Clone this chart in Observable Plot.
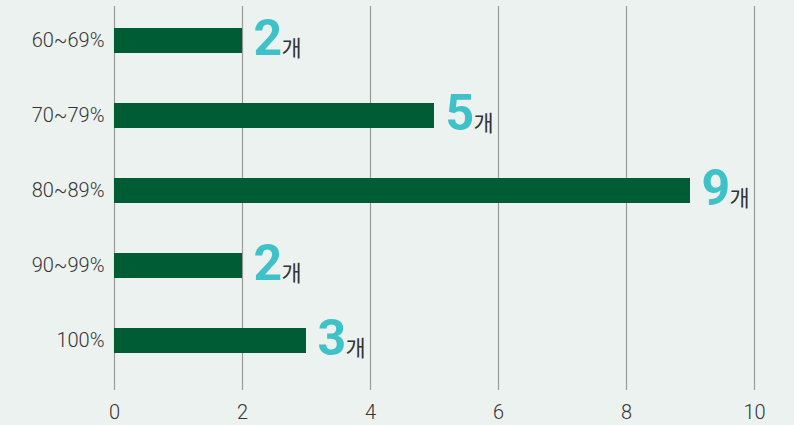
<!DOCTYPE html>
<html>
<head>
<meta charset="utf-8">
<script src="https://cdn.jsdelivr.net/npm/d3@7"></script>
<script src="https://cdn.jsdelivr.net/npm/@observablehq/plot@0.6"></script>
<style>
  html, body { margin: 0; padding: 0; background: #ecf2f0; }
  #chart svg { display: block; }
</style>
</head>
<body>
<div id="chart"></div>
<script>
const categories = ["60~69%", "70~79%", "80~89%", "90~99%", "100%"];
const counts = [2, 5, 9, 2, 3];
const xTicks = [0, 2, 4, 6, 8, 10];
const unitLabel = "개";

const data = categories.map((c, i) => ({category: c, count: counts[i]}));

const chart = Plot.plot({
  width: 794,
  height: 425,
  marginLeft: 114,
  marginRight: 40,
  marginTop: 6,
  marginBottom: 35,
  style: {background: "#ecf2f0", fontFamily: "Roboto, 'Noto Sans CJK KR', sans-serif"},
  x: {domain: [0, 10], ticks: xTicks},
  y: {domain: categories, paddingInner: 0.67, paddingOuter: 0.378, align: 0.37, label: null},
  marks: [
    Plot.gridX(xTicks, {stroke: "#9a9a9a", strokeOpacity: 1, strokeWidth: 1.2}),
    Plot.axisX({ticks: xTicks, tickSize: 0, tickPadding: 14, fontSize: 20, fontWeight: 300, label: null, fill: "#333"}),
    Plot.axisY({tickSize: 0, tickPadding: 10, fontSize: 20, fontWeight: 300, label: null, fill: "#333"}),
    Plot.barX(data, {x: "count", y: "category", fill: "#005c34"}),
    Plot.text(data, {
      x: "count", y: "category", text: d => String(d.count),
      textAnchor: "start", lineAnchor: "bottom", dx: 11, dy: 14,
      fill: "#3fc1c8", fontSize: 50, fontWeight: "bold", fontFamily: "Roboto, sans-serif"
    }),
    Plot.text(data, {
      x: "count", y: "category", text: () => unitLabel,
      textAnchor: "start", lineAnchor: "bottom", dx: 39, dy: 15,
      fill: "#333", fontSize: 22, fontWeight: 400, fontFamily: "'Noto Sans CJK KR', sans-serif"
    })
  ]
});
document.getElementById("chart").appendChild(chart);
</script>
</body>
</html>
